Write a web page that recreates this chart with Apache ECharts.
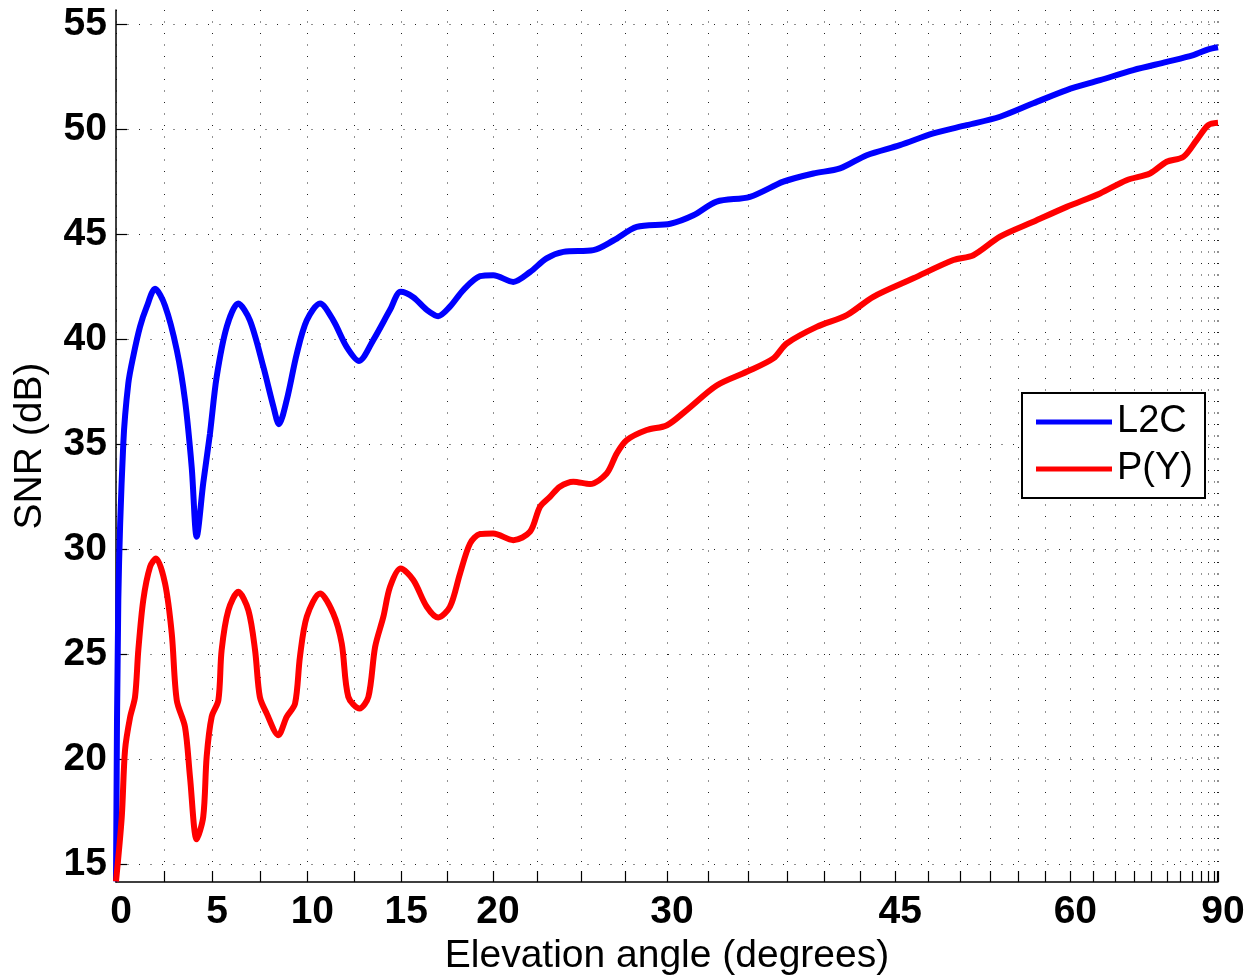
<!DOCTYPE html>
<html>
<head>
<meta charset="utf-8">
<script src="https://cdn.jsdelivr.net/npm/echarts@6/dist/echarts.min.js"></script>
<style>
  html, body { margin: 0; padding: 0; background: #fff; }
  #chart { width: 1252px; height: 978px; }
</style>
</head>
<body>
<div id="chart"></div>
<script>
// elevation angle (deg) and SNR (dB)
const l2cElevation = [0, 0.12, 0.38, 0.64, 0.9, 1.25, 1.6, 2.03, 2.55, 3.16, 3.59, 3.94, 4.2, 4.54, 4.89, 5.24, 5.77, 6.37, 6.98, 7.68, 8.21, 8.5, 8.91, 9.44, 9.97, 10.67, 11.37, 12.08, 12.74, 13.5, 14.4, 14.97, 15.65, 16.38, 17.0, 17.64, 18.37, 19.29, 20.02, 21.13, 22.07, 23.0, 23.95, 25.67, 26.83, 28.2, 30.2, 31.6, 33.03, 35.12, 37.27, 39.26, 41.07, 42.94, 45.35, 47.87, 50.53, 53.34, 56.35, 59.62, 63.25, 67.38, 72.45, 77.85, 82.4, 90];
const l2cSnr = [14.2, 27.6, 35.05, 37.9, 39.2, 40.6, 41.55, 42.4, 41.6, 39.5, 37.1, 33.9, 30.6, 33.15, 35.5, 38.2, 40.6, 41.7, 40.9, 38.7, 36.8, 35.96, 37.1, 39.3, 40.9, 41.7, 40.9, 39.64, 38.97, 39.96, 41.4, 42.26, 42.0, 41.4, 41.1, 41.55, 42.34, 43.0, 43.05, 42.73, 43.2, 43.85, 44.16, 44.24, 44.7, 45.35, 45.5, 45.9, 46.55, 46.78, 47.5, 47.89, 48.13, 48.76, 49.24, 49.8, 50.19, 50.59, 51.23, 51.86, 52.33, 52.81, 53.2, 53.52, 53.8, 53.9];

const pyElevation = [0, 0.3, 0.47, 0.73, 0.99, 1.16, 1.42, 1.77, 2.08, 2.55, 2.9, 3.16, 3.59, 3.85, 4.2, 4.54, 4.72, 4.98, 5.33, 5.5, 5.85, 6.37, 6.9, 7.25, 7.5, 7.86, 8.47, 8.91, 9.35, 9.61, 9.97, 10.67, 11.37, 11.82, 12.17, 12.77, 13.24, 13.6, 14.04, 14.4, 14.97, 15.65, 16.38, 17.0, 17.64, 18.19, 18.74, 19.29, 20.02, 21.13, 22.07, 22.63, 23.19, 23.75, 24.52, 25.48, 26.44, 27.03, 27.61, 28.79, 30, 31.19, 33.03, 34.91, 36.62, 37.49, 39.48, 41.54, 43.41, 46.35, 49.45, 51.08, 53.34, 56.35, 59.62, 63.25, 66.5, 69.76, 72.45, 75.6, 78.7, 82.4, 90];
const pySnr = [14.2, 17.27, 20.45, 22.0, 22.98, 25.2, 27.6, 29.17, 29.57, 28.38, 26.0, 22.82, 21.55, 19.17, 16.2, 17.27, 20.14, 22.03, 22.82, 25.2, 27.1, 27.98, 27.1, 25.2, 22.98, 22.19, 21.16, 22.03, 22.66, 24.9, 26.8, 27.9, 26.95, 25.52, 22.98, 22.43, 22.98, 25.36, 26.79, 28.22, 29.09, 28.54, 27.27, 26.76, 27.27, 28.85, 30.28, 30.73, 30.76, 30.44, 30.84, 32.03, 32.5, 32.98, 33.22, 33.11, 33.61, 34.57, 35.2, 35.68, 35.91, 36.63, 37.8, 38.45, 39.09, 39.8, 40.59, 41.15, 42.02, 42.9, 43.77, 44.0, 44.88, 45.59, 46.3, 46.94, 47.57, 47.89, 48.45, 48.68, 49.48, 50.19, 50.3];

const xLabelDegrees = [0, 5, 10, 15, 20, 30, 45, 60, 90];
const xTickStepDeg = 2.5;
const yTicks = [15, 20, 25, 30, 35, 40, 45, 50, 55];

const FONT = "'Liberation Sans', Arial, sans-serif";

// x axis is linear in sin(elevation)
const sinDeg = d => Math.sin(d * Math.PI / 180);
const xTickValues = [];
for (let d = 0; d <= 90; d += xTickStepDeg) xTickValues.push(sinDeg(d));
const xLabelValues = xLabelDegrees.map(sinDeg);

const toPoints = (elev, snr) => elev.map((e, i) => [sinDeg(e), snr[i]]);

const chart = echarts.init(document.getElementById("chart"));

const gridDots = { color: "#222", width: 1, type: [1, 10.5] };

const option = {
  animation: false,
  backgroundColor: "#fff",
  grid: { left: 116, right: 34, top: 10, bottom: 96, containLabel: false, outerBoundsMode: "none" },
  legend: {
    orient: "vertical",
    left: 1022,
    top: 393,
    data: ["L2C", "P(Y)"],
    icon: "rect",
    itemWidth: 76,
    itemHeight: 5,
    itemGap: 5,
    padding: [8, 12, 8, 14],
    borderColor: "#000",
    borderWidth: 2,
    backgroundColor: "#fff",
    textStyle: { fontFamily: FONT, fontSize: 38, color: "#000", lineHeight: 42 },
  },
  xAxis: {
    type: "value",
    min: 0,
    max: 1,
    name: "Elevation angle (degrees)",
    nameLocation: "middle",
    nameGap: 44,
    nameTextStyle: { fontFamily: FONT, fontSize: 39, color: "#000" },
    axisLine: { show: true, onZero: false, lineStyle: { color: "#000", width: 1.5 } },
    axisTick: { show: true, inside: true, length: 11, customValues: xTickValues, lineStyle: { color: "#000", width: 1.2 } },
    axisLabel: {
      customValues: xLabelValues,
      margin: 11,
      padding: [0, 0, 0, 10],
      fontFamily: FONT,
      fontSize: 39,
      fontWeight: "bold",
      color: "#000",
      formatter: (v) => String(Math.round(Math.asin(Math.min(1, v)) * 180 / Math.PI)),
    },
    splitLine: { show: true, lineStyle: gridDots },
  },
  yAxis: {
    type: "value",
    min: 14.17,
    max: 55.67,
    name: "SNR (dB)",
    nameLocation: "middle",
    nameRotate: 90,
    nameGap: 66,
    nameTextStyle: { fontFamily: FONT, fontSize: 39, color: "#000" },
    axisLine: { show: true, onZero: false, lineStyle: { color: "#000", width: 1.5 } },
    axisTick: { show: true, inside: true, length: 11, customValues: yTicks, lineStyle: { color: "#000", width: 1.2 } },
    axisLabel: {
      customValues: yTicks,
      margin: 9,
      fontFamily: FONT,
      fontSize: 39,
      fontWeight: "bold",
      color: "#000",
    },
    splitLine: { show: true, lineStyle: gridDots },
  },
  series: [
    {
      name: "L2C",
      type: "line",
      data: toPoints(l2cElevation, l2cSnr),
      color: "#0000ff",
      showSymbol: false,
      smooth: 0.3,
      lineStyle: { width: 6, color: "#0000ff" },
    },
    {
      name: "P(Y)",
      type: "line",
      data: toPoints(pyElevation, pySnr),
      color: "#ff0000",
      showSymbol: false,
      smooth: 0.3,
      lineStyle: { width: 6, color: "#ff0000" },
    },
  ],
};

chart.setOption(option);
</script>
</body>
</html>
